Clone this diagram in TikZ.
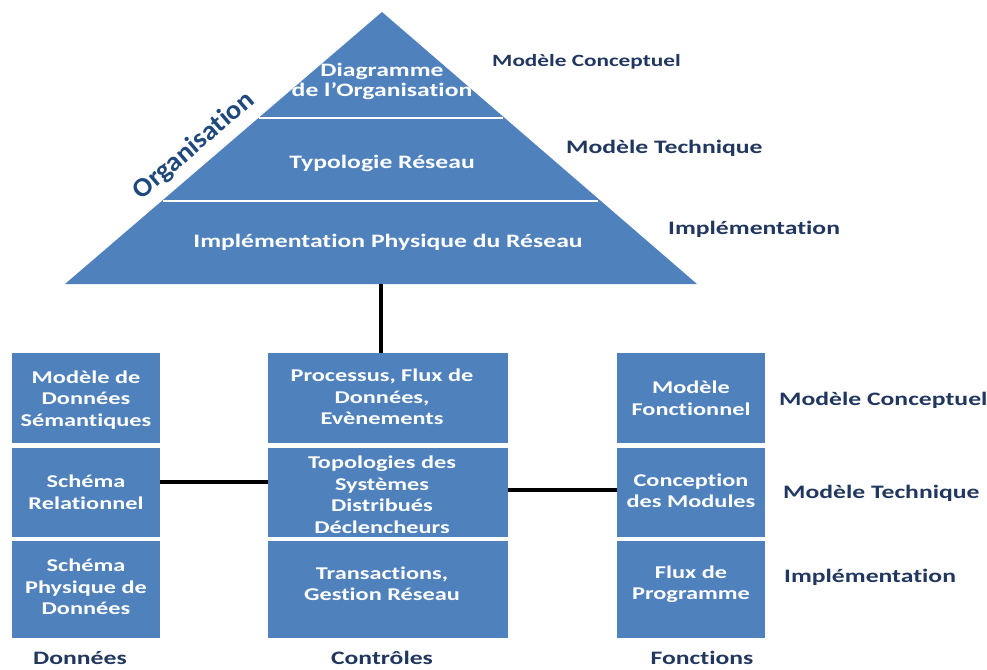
\documentclass[tikz,border=0pt]{standalone}
\usepackage{fontspec}
\setmainfont{Carlito}[Ligatures=NoCommon, FakeStretch=1.35]
\newfontfamily\plainfont{Carlito}[Ligatures=NoCommon, FakeStretch=1.05]
\definecolor{boxblue}{RGB}{79,129,189}
\definecolor{navy}{RGB}{33,55,95}
\definecolor{orgblue}{RGB}{31,73,125}
\tikzset{
  box/.style={fill=boxblue, draw=none, inner sep=0pt},
  boxtext/.style={text=white, font=\fontsize{18}{21.5}\selectfont\bfseries, align=center, inner sep=0pt},
  pyrtext/.style={text=white, font=\fontsize{19}{20}\selectfont\bfseries, align=center, inner sep=0pt},
  sidelabel/.style={text=navy, font=\fontsize{19}{22}\selectfont\bfseries, anchor=west, inner sep=0pt},
  bottomlabel/.style={text=navy, font=\fontsize{19}{22}\selectfont\bfseries, inner sep=0pt},
  conn/.style={draw=black, line width=3.5pt},
  sep/.style={draw=white, line width=2.5pt}
}
\begin{document}
\begin{tikzpicture}[x=1pt,y=-1pt]
\useasboundingbox (0,0) rectangle (987,669);
% pyramid
\coordinate (apex) at (382,12);
\coordinate (bl) at (65,284);
\coordinate (br) at (697,284);
\coordinate (pbase) at (381,284);
\fill[boxblue] (apex) -- (bl) -- (br) -- cycle;
\coordinate (s1l) at (259,118);
\coordinate (s1r) at (503,118);
\coordinate (s2l) at (163,201);
\coordinate (s2r) at (598,201);
\draw[sep] (s1l) -- (s1r);
\draw[sep] (s2l) -- (s2r);
\node[pyrtext] (p1) at (382,81) {Diagramme\\de l’Organisation};
\node[pyrtext] (p2) at (382,163) {Typologie Réseau};
\node[pyrtext] (p3) at (388,242) {Implémentation Physique du Réseau};
\node[text=orgblue, font=\plainfont\fontsize{27}{29}\selectfont\bfseries, rotate=40.6, inner sep=0pt] (org) at (194,146) {Organisation};
\node[sidelabel, font=\fontsize{17.2}{20}\selectfont\bfseries] (sc1) at (492,62) {Modèle Conceptuel};
\node[sidelabel] (sc2) at (566,148) {Modèle Technique};
\node[sidelabel] (sc3) at (668,229) {Implémentation};
% boxes
\node[box, minimum width=148pt, minimum height=90pt] (l1) at (86,398) {};
\node[box, minimum width=148pt, minimum height=89pt] (l2) at (86,492.5) {};
\node[box, minimum width=148pt, minimum height=97pt] (l3) at (86,589.5) {};
\node[box, minimum width=240pt, minimum height=90pt] (m1) at (388,398) {};
\node[box, minimum width=240pt, minimum height=89pt] (m2) at (388,492.5) {};
\node[box, minimum width=240pt, minimum height=97pt] (m3) at (388,589.5) {};
\node[box, minimum width=148pt, minimum height=90pt] (r1) at (691,398) {};
\node[box, minimum width=148pt, minimum height=89pt] (r2) at (691,492.5) {};
\node[box, minimum width=148pt, minimum height=97pt] (r3) at (691,589.5) {};
% box texts
\node[boxtext] (tl1) at (86,400) {Modèle de\\Données\\Sémantiques};
\node[boxtext] (tl2) at (86,492) {Schéma\\Relationnel};
\node[boxtext] (tl3) at (86,587) {Schéma\\Physique de\\Données};
\node[boxtext] (tm1) at (382,397) {Processus, Flux de\\Données,\\Evènements};
\node[boxtext] (tm2) at (382,494.5) {Topologies des\\Systèmes\\Distribués\\Déclencheurs};
\node[boxtext] (tm3) at (382,583.5) {Transactions,\\Gestion Réseau};
\node[boxtext] (tr1) at (691,398) {Modèle\\Fonctionnel};
\node[boxtext] (tr2) at (691,490.5) {Conception\\des Modules};
\node[boxtext] (tr3) at (691,584) {Flux de\\Programme};
% right labels
\node[sidelabel] (rc1) at (779,400) {Modèle Conceptuel};
\node[sidelabel] (rc2) at (783,493) {Modèle Technique};
\node[sidelabel] (rc3) at (784,577) {Implémentation};
% bottom labels
\node[bottomlabel] (b1) at (80,658) {Données};
\node[bottomlabel] (b2) at (382,658) {Contrôles};
\node[bottomlabel] (b3) at (702,658) {Fonctions};
% connectors
\draw[conn] (pbase) -- (pbase |- m1.north);
\draw[conn] ([yshift=10.5pt]l2.east) -- ([yshift=10.5pt]m2.west);
\draw[conn] ([yshift=2.5pt]m2.east) -- ([yshift=2.5pt]r2.west);
\end{tikzpicture}
\end{document}
